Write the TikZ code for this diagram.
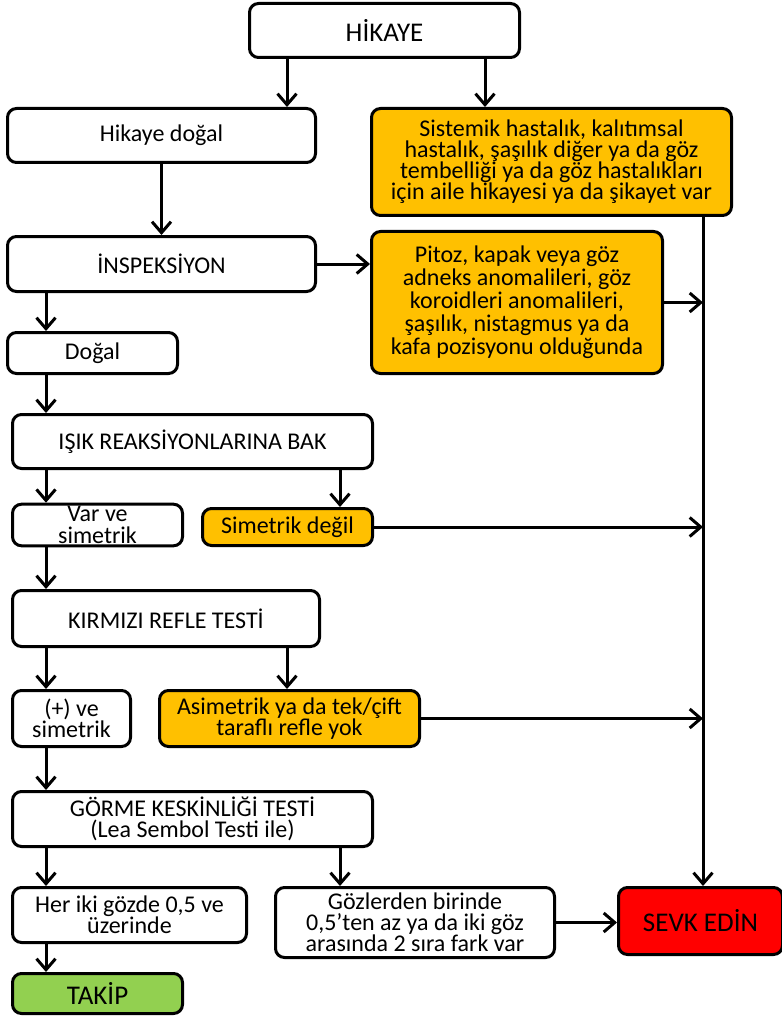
\documentclass[tikz,border=0pt]{standalone}
\usepackage{fontspec}
\setmainfont{Carlito}
\usepackage{tikz}
\usetikzlibrary{arrows.meta}
\definecolor{warn-yellow}{HTML}{FFC000}
\definecolor{refer-red}{HTML}{FF0000}
\definecolor{follow-green}{HTML}{92D050}
\tikzset{
    flow-box/.style = {draw=black, fill=white, line width=3pt, rectangle, rounded corners=9pt, align=center, inner sep=2pt, font=\fontsize{24pt}{21pt}\selectfont},
    flow-box-warn/.style = {flow-box, fill=warn-yellow},
    flow-box-big/.style = {flow-box, font=\fontsize{27pt}{24pt}\selectfont},
    flow-arrow/.style = {line width=3pt, -{Straight Barb[length=11pt,width=19pt,line width=3pt]}},
}
\begin{document}
\begin{tikzpicture}[x=1pt, y=-1pt]
\path[use as bounding box, fill=white] (0,0) rectangle (781,1016);

\node[flow-box-big, minimum width=270pt, minimum height=54pt] (hikaye) at (384.5,30.5) {HİKAYE};
\node[flow-box, minimum width=308pt, minimum height=54pt] (dogalhist) at (161.5,135.5) {Hikaye doğal};
\node[flow-box-warn, minimum width=360pt, minimum height=107pt] (sistemik) at (551.5,162) {Sistemik hastalık, kalıtımsal\\hastalık, şaşılık diğer ya da göz\\tembelliği ya da göz hastalıkları\\için aile hikayesi ya da şikayet var};
\node[flow-box, minimum width=308pt, minimum height=55pt] (insp) at (161.5,264) {İNSPEKSİYON};
\node[flow-box-warn, minimum width=291pt, minimum height=142pt, font=\fontsize{24pt}{23pt}\selectfont] (pitoz) at (517,302.5) {Pitoz, kapak veya göz\\adneks anomalileri, göz\\koroidleri anomalileri,\\şaşılık, nistagmus ya da\\kafa pozisyonu olduğunda};
\node[flow-box, minimum width=170pt, minimum height=41pt] (dogal) at (92.5,353) {Doğal};
\node[flow-box, minimum width=360pt, minimum height=54pt] (isik) at (192.5,441.5) {IŞIK REAKSİYONLARINA BAK};
\node[flow-box, minimum width=170pt, minimum height=39pt, font=\fontsize{24pt}{22pt}\selectfont] (varve) at (97.5,525) {Var ve\\simetrik};
\node[flow-box-warn, minimum width=170pt, minimum height=37pt] (simdegil) at (287.5,527) {Simetrik değil};
\node[flow-box, minimum width=307pt, minimum height=56pt] (kirmizi) at (166,618.5) {KIRMIZI REFLE TESTİ};
\node[flow-box, minimum width=118pt, minimum height=56pt] (artisim) at (71.5,718.5) {(+) ve\\simetrik};
\node[flow-box-warn, minimum width=260pt, minimum height=56pt] (asim) at (289.5,718.5) {Asimetrik ya da tek/çift\\taraflı refle yok};
\node[flow-box, minimum width=360pt, minimum height=55pt] (gorme) at (192.5,819) {GÖRME KESKİNLİĞİ TESTİ\\(Lea Sembol Testi ile)};
\node[flow-box, minimum width=234pt, minimum height=55pt] (heriki) at (129.5,915) {Her iki gözde 0,5 ve\\üzerinde};
\node[flow-box, minimum width=279pt, minimum height=70pt] (gozler) at (415,922.5) {Gözlerden birinde\\0,5’ten az ya da iki göz\\arasında 2 sıra fark var};
\node[flow-box-big, fill=refer-red, minimum width=164pt, minimum height=67pt] (sevk) at (700.5,921) {SEVK EDİN};
\node[flow-box-big, fill=follow-green, minimum width=170pt, minimum height=40pt] (takip) at (97.5,993.5) {TAKİP};

% left column
\draw[flow-arrow] (hikaye.south -| 287,0) -- (287,0 |- dogalhist.north);
\draw[flow-arrow] (dogalhist.south) -- (insp.north);
\draw[flow-arrow] (insp.south -| 46,0) -- (46,0 |- dogal.north);
\draw[flow-arrow] (dogal.south -| 46,0) -- (46,0 |- isik.north);
\draw[flow-arrow] (isik.south -| 46,0) -- (46,0 |- varve.north);
\draw[flow-arrow] (varve.south -| 46,0) -- (46,0 |- kirmizi.north);
\draw[flow-arrow] (kirmizi.south -| 46,0) -- (46,0 |- artisim.north);
\draw[flow-arrow] (artisim.south -| 46,0) -- (46,0 |- gorme.north);
\draw[flow-arrow] (gorme.south -| 46,0) -- (46,0 |- heriki.north);
\draw[flow-arrow] (heriki.south -| 46,0) -- (46,0 |- takip.north);

% findings
\draw[flow-arrow] (hikaye.south -| 485,0) -- (485,0 |- sistemik.north);
\draw[flow-arrow] (insp.east) -- (insp.east -| pitoz.west);
\draw[flow-arrow] (isik.south -| 340,0) -- (340,0 |- simdegil.north);
\draw[flow-arrow] (kirmizi.south -| 287,0) -- (287,0 |- asim.north);
\draw[flow-arrow] (gorme.south -| 340,0) -- (340,0 |- gozler.north);

% referral line
\draw[flow-arrow] (703,0 |- sistemik.south) -- (703,0 |- sevk.north);
\draw[flow-arrow] (pitoz.east) -- (pitoz.east -| 703,0);
\draw[flow-arrow] (simdegil.east) -- (simdegil.east -| 703,0);
\draw[flow-arrow] (asim.east) -- (asim.east -| 703,0);
\draw[flow-arrow] (gozler.east) -- (gozler.east -| sevk.west);
\end{tikzpicture}
\end{document}
